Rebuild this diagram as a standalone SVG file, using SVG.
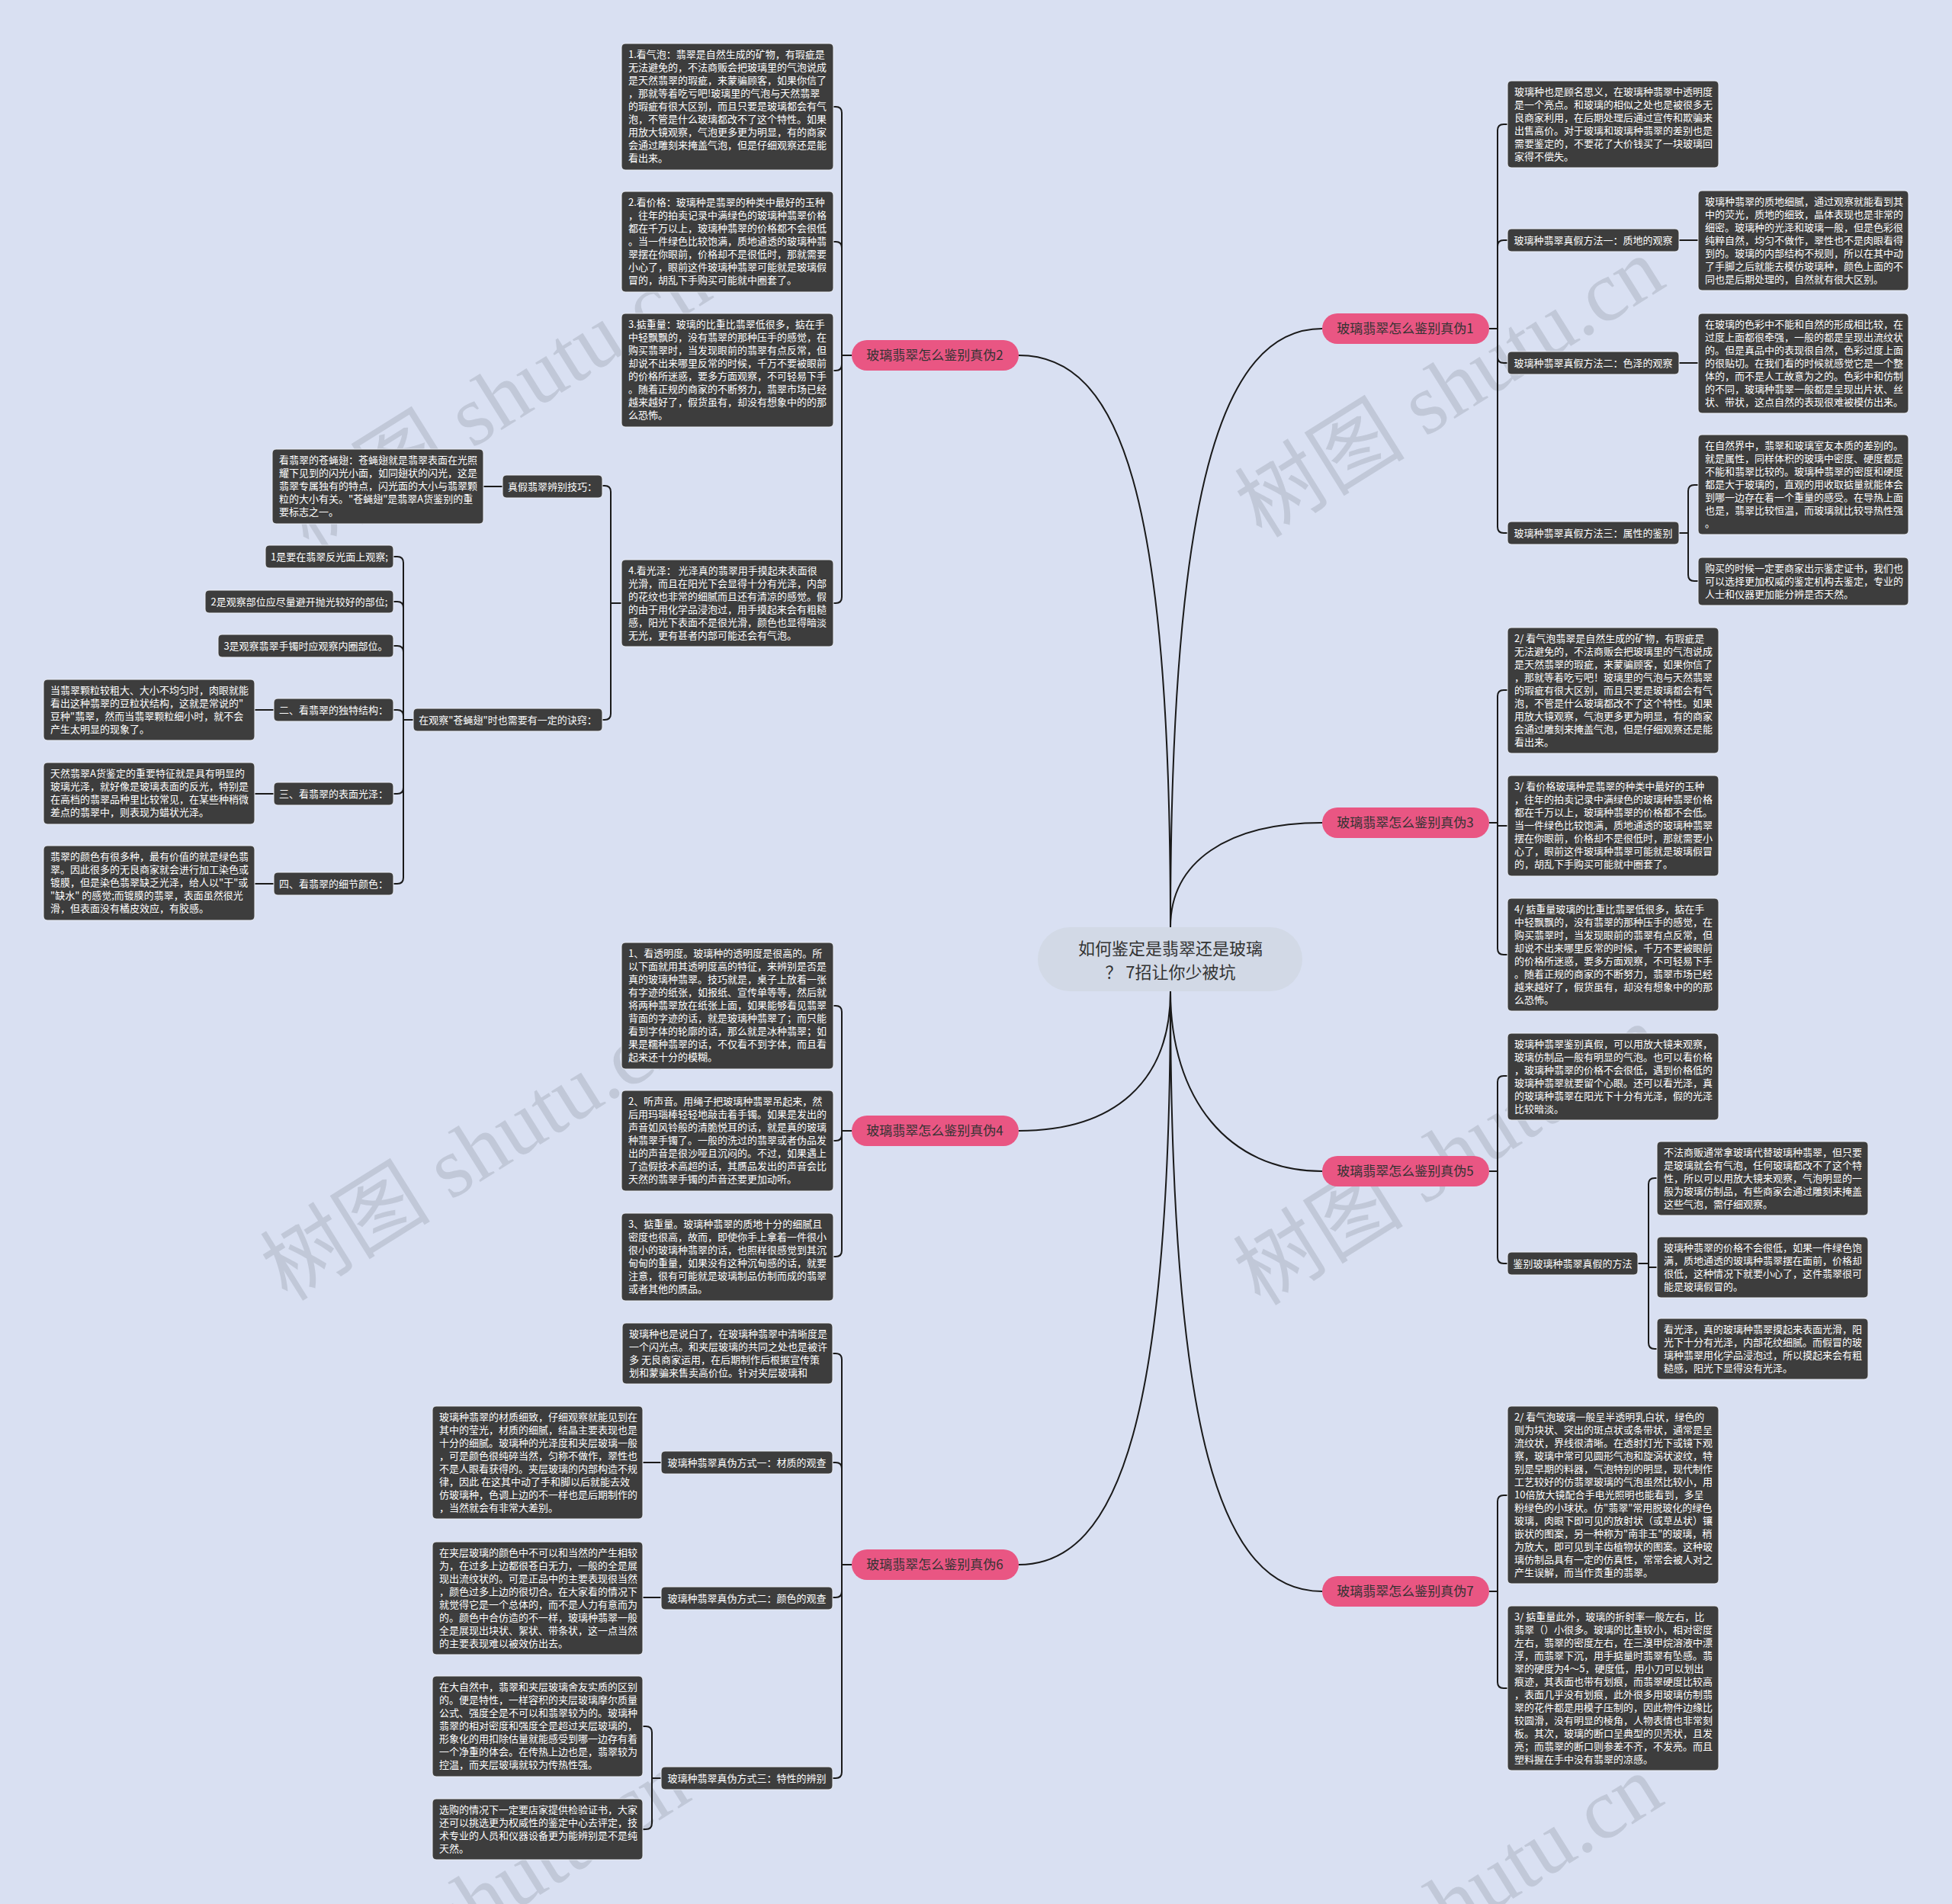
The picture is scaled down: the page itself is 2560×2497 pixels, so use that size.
<svg xmlns="http://www.w3.org/2000/svg" width="2560" height="2497" viewBox="0 0 2560 2497">
<style>
.bg{fill:#d9e0f2}
.bx{fill:#3d3d3d;stroke:#eef1f8;stroke-width:1}
.t{font-family:"Noto Sans CJK SC","Microsoft YaHei",sans-serif;font-size:13px;fill:#ffffff}
.tm{text-anchor:middle}
.pk{fill:#e95683}
.pt{font-family:"Noto Sans CJK SC","Microsoft YaHei",sans-serif;font-size:17px;fill:#333333;text-anchor:middle}
.ct{font-family:"Noto Sans CJK SC","Microsoft YaHei",sans-serif;font-size:22px;fill:#333333;text-anchor:middle}
.c{fill:none;stroke:#1a1a1a;stroke-width:2}
.wm{font-family:"Liberation Serif","Noto Sans CJK SC",serif;font-size:112px;fill:#b9c0d0;opacity:0.75}
</style>
<rect class="bg" x="0" y="0" width="2560" height="2497"/>
<g id="watermarks">
<text class="wm" transform="translate(405,722) rotate(-32)">树图 shutu.cn</text>
<text class="wm" transform="translate(1655,707) rotate(-32)">树图 shutu.cn</text>
<text class="wm" transform="translate(377,1708) rotate(-32)">树图 shutu.cn</text>
<text class="wm" transform="translate(1653,1714) rotate(-32)">树图 shutu.cn</text>
<text class="wm" transform="translate(377,2692) rotate(-32)">树图 shutu.cn</text>
<text class="wm" transform="translate(1653,2697) rotate(-32)">树图 shutu.cn</text>
</g>
<g id="connectors">
<path class="c" d="M1535,1216 C1535,650 1600,431 1734,431"/>
<path class="c" d="M1535,1216 C1535,650 1470,466 1336,466"/>
<path class="c" d="M1535,1216 C1535,1130 1610,1079 1734,1079"/>
<path class="c" d="M1535,1300 C1535,1420 1460,1483 1336,1483"/>
<path class="c" d="M1535,1300 C1535,1440 1610,1536 1734,1536"/>
<path class="c" d="M1535,1300 C1535,1850 1470,2052 1336,2052"/>
<path class="c" d="M1535,1300 C1535,1880 1600,2087 1734,2087"/>
<path class="c" d="M1953,431 H1964 V171 Q1964,163 1972,163 H1977"/>
<path class="c" d="M1953,431 H1964 V323 Q1964,315 1972,315 H1977"/>
<path class="c" d="M1953,431 H1964 V468 Q1964,476 1972,476 H1977"/>
<path class="c" d="M1953,431 H1964 V691 Q1964,699 1972,699 H1977"/>
<path class="c" d="M2202,315 H2227"/>
<path class="c" d="M2202,476 H2227"/>
<path class="c" d="M2202,699 H2214 V644 Q2214,636 2222,636 H2227"/>
<path class="c" d="M2202,699 H2214 V754 Q2214,762 2222,762 H2227"/>
<path class="c" d="M1953,1079 H1964 V913 Q1964,905 1972,905 H1977"/>
<path class="c" d="M1953,1079 H1964 V1083 H1977"/>
<path class="c" d="M1953,1079 H1964 V1244 Q1964,1252 1972,1252 H1977"/>
<path class="c" d="M1953,1536 H1964 V1419 Q1964,1411 1972,1411 H1977"/>
<path class="c" d="M1953,1536 H1964 V1649 Q1964,1657 1972,1657 H1977"/>
<path class="c" d="M2148,1657 H2162 V1553 Q2162,1545 2170,1545 H2173"/>
<path class="c" d="M2148,1657 H2162 V1662 H2173"/>
<path class="c" d="M2148,1657 H2162 V1761 Q2162,1769 2170,1769 H2173"/>
<path class="c" d="M1953,2087 H1964 V1969 Q1964,1961 1972,1961 H1977"/>
<path class="c" d="M1953,2087 H1964 V2206 Q1964,2214 1972,2214 H1977"/>
<path class="c" d="M1117,466 H1104 V148 Q1104,140 1096,140 H1093"/>
<path class="c" d="M1117,466 H1104 V325 Q1104,317 1096,317 H1093"/>
<path class="c" d="M1117,466 H1104 V478 Q1104,486 1096,486 H1093"/>
<path class="c" d="M1117,466 H1104 V783 Q1104,791 1096,791 H1093"/>
<path class="c" d="M815,791 H801 V645 Q801,637 793,637 H790"/>
<path class="c" d="M815,791 H801 V936 Q801,944 793,944 H790"/>
<path class="c" d="M659,638 H634"/>
<path class="c" d="M542,944 H529 V738 Q529,730 521,730 H516"/>
<path class="c" d="M542,944 H529 V797 Q529,789 521,789 H516"/>
<path class="c" d="M542,944 H529 V855 Q529,847 521,847 H516"/>
<path class="c" d="M542,944 H529 V939 Q529,931 521,931 H516"/>
<path class="c" d="M542,944 H529 V1033 Q529,1041 521,1041 H516"/>
<path class="c" d="M542,944 H529 V1151 Q529,1159 521,1159 H516"/>
<path class="c" d="M359,931 H334"/>
<path class="c" d="M359,1041 H334"/>
<path class="c" d="M359,1159 H334"/>
<path class="c" d="M1117,1483 H1104 V1327 Q1104,1319 1096,1319 H1093"/>
<path class="c" d="M1117,1483 H1104 V1488 Q1104,1496 1096,1496 H1093"/>
<path class="c" d="M1117,1483 H1104 V1640 Q1104,1648 1096,1648 H1093"/>
<path class="c" d="M1117,2052 H1104 V1783 Q1104,1775 1096,1775 H1092"/>
<path class="c" d="M1117,2052 H1104 V1926 Q1104,1918 1096,1918 H1092"/>
<path class="c" d="M1117,2052 H1104 V2087 Q1104,2095 1096,2095 H1092"/>
<path class="c" d="M1117,2052 H1104 V2324 Q1104,2332 1096,2332 H1092"/>
<path class="c" d="M867,1918 H843"/>
<path class="c" d="M867,2095 H843"/>
<path class="c" d="M867,2332 H855 V2272 Q855,2264 847,2264 H843"/>
<path class="c" d="M867,2332 H855 V2391 Q855,2399 847,2399 H843"/>
</g>
<g id="center">
<rect x="1361" y="1216" width="347" height="84" rx="42" fill="#d2d9e6"/>
<text class="ct" x="1535" y="1252">如何鉴定是翡翠还是玻璃</text>
<text class="ct" x="1535" y="1283">？ 7招让你少被坑</text>
</g>
<g id="b1"><rect class="pk" x="1734" y="411" width="219" height="40" rx="20"/><text class="pt" x="1843" y="437">玻璃翡翠怎么鉴别真伪1</text></g>
<g id="b2"><rect class="pk" x="1117" y="446" width="219" height="40" rx="20"/><text class="pt" x="1226" y="472">玻璃翡翠怎么鉴别真伪2</text></g>
<g id="b3"><rect class="pk" x="1734" y="1059" width="219" height="40" rx="20"/><text class="pt" x="1843" y="1085">玻璃翡翠怎么鉴别真伪3</text></g>
<g id="b4"><rect class="pk" x="1117" y="1463" width="219" height="40" rx="20"/><text class="pt" x="1226" y="1489">玻璃翡翠怎么鉴别真伪4</text></g>
<g id="b5"><rect class="pk" x="1734" y="1516" width="219" height="40" rx="20"/><text class="pt" x="1843" y="1542">玻璃翡翠怎么鉴别真伪5</text></g>
<g id="b6"><rect class="pk" x="1117" y="2032" width="219" height="40" rx="20"/><text class="pt" x="1226" y="2058">玻璃翡翠怎么鉴别真伪6</text></g>
<g id="b7"><rect class="pk" x="1734" y="2067" width="219" height="40" rx="20"/><text class="pt" x="1843" y="2093">玻璃翡翠怎么鉴别真伪7</text></g>

<g id="l2-1"><rect class="bx" x="815" y="57" width="278" height="166" rx="5"/><text class="t" x="824" y="76"><tspan x="824" dy="0">1.看气泡：翡翠是自然生成的矿物，有瑕疵是</tspan><tspan x="824" dy="17">无法避免的，不法商贩会把玻璃里的气泡说成</tspan><tspan x="824" dy="17">是天然翡翠的瑕疵，来蒙骗顾客，如果你信了</tspan><tspan x="824" dy="17">，那就等着吃亏吧!玻璃里的气泡与天然翡翠</tspan><tspan x="824" dy="17">的瑕疵有很大区别，而且只要是玻璃都会有气</tspan><tspan x="824" dy="17">泡，不管是什么玻璃都改不了这个特性。如果</tspan><tspan x="824" dy="17">用放大镜观察，气泡更多更为明显，有的商家</tspan><tspan x="824" dy="17">会通过雕刻来掩盖气泡，但是仔细观察还是能</tspan><tspan x="824" dy="17">看出来。</tspan></text></g>
<g id="l2-2"><rect class="bx" x="815" y="251" width="278" height="132" rx="5"/><text class="t" x="824" y="270"><tspan x="824" dy="0">2.看价格：玻璃种是翡翠的种类中最好的玉种</tspan><tspan x="824" dy="17">，往年的拍卖记录中满绿色的玻璃种翡翠价格</tspan><tspan x="824" dy="17">都在千万以上，玻璃种翡翠的价格都不会很低</tspan><tspan x="824" dy="17">。当一件绿色比较饱满，质地通透的玻璃种翡</tspan><tspan x="824" dy="17">翠摆在你眼前，价格却不是很低时，那就需要</tspan><tspan x="824" dy="17">小心了，眼前这件玻璃种翡翠可能就是玻璃假</tspan><tspan x="824" dy="17">冒的，胡乱下手购买可能就中圈套了。</tspan></text></g>
<g id="l2-3"><rect class="bx" x="815" y="411" width="278" height="149" rx="5"/><text class="t" x="824" y="430"><tspan x="824" dy="0">3.掂重量：玻璃的比重比翡翠低很多，掂在手</tspan><tspan x="824" dy="17">中轻飘飘的，没有翡翠的那种压手的感觉，在</tspan><tspan x="824" dy="17">购买翡翠时，当发现眼前的翡翠有点反常，但</tspan><tspan x="824" dy="17">却说不出来哪里反常的时候，千万不要被眼前</tspan><tspan x="824" dy="17">的价格所迷惑，要多方面观察，不可轻易下手</tspan><tspan x="824" dy="17">。随着正规的商家的不断努力，翡翠市场已经</tspan><tspan x="824" dy="17">越来越好了，假货虽有，却没有想象中的的那</tspan><tspan x="824" dy="17">么恐怖。</tspan></text></g>
<g id="l2-4"><rect class="bx" x="815" y="734" width="278" height="114" rx="5"/><text class="t" x="824" y="753"><tspan x="824" dy="0">4.看光泽： 光泽真的翡翠用手摸起来表面很</tspan><tspan x="824" dy="17">光滑，而且在阳光下会显得十分有光泽，内部</tspan><tspan x="824" dy="17">的花纹也非常的细腻而且还有清凉的感觉。假</tspan><tspan x="824" dy="17">的由于用化学品浸泡过，用手摸起来会有粗糙</tspan><tspan x="824" dy="17">感，阳光下表面不是很光滑，颜色也显得暗淡</tspan><tspan x="824" dy="17">无光，更有甚者内部可能还会有气泡。</tspan></text></g>
<g id="l2-4a"><rect class="bx" x="659" y="623" width="131" height="30" rx="5"/><text class="t tm" x="724.5" y="643">真假翡翠辨别技巧：</text></g>
<g id="l2-4a1"><rect class="bx" x="357" y="589" width="277" height="98" rx="5"/><text class="t" x="366" y="608"><tspan x="366" dy="0">看翡翠的苍蝇翅：苍蝇翅就是翡翠表面在光照</tspan><tspan x="366" dy="17">耀下见到的闪光小面，如同翅状的闪光，这是</tspan><tspan x="366" dy="17">翡翠专属独有的特点，闪光面的大小与翡翠颗</tspan><tspan x="366" dy="17">粒的大小有关。"苍蝇翅"是翡翠A货鉴别的重</tspan><tspan x="366" dy="17">要标志之一。</tspan></text></g>
<g id="l2-4b"><rect class="bx" x="542" y="929" width="248" height="30" rx="5"/><text class="t tm" x="666" y="949">在观察"苍蝇翅"时也需要有一定的诀窍：</text></g>
<g id="l2-4b1"><rect class="bx" x="348" y="715" width="168" height="30" rx="5"/><text class="t tm" x="432" y="735">1是要在翡翠反光面上观察;</text></g>
<g id="l2-4b2"><rect class="bx" x="269" y="774" width="247" height="30" rx="5"/><text class="t tm" x="392.5" y="794">2是观察部位应尽量避开抛光较好的部位;</text></g>
<g id="l2-4b3"><rect class="bx" x="286" y="832" width="230" height="30" rx="5"/><text class="t tm" x="401" y="852">3是观察翡翠手镯时应观察内圈部位。</text></g>
<g id="l2-4b4"><rect class="bx" x="359" y="916" width="157" height="30" rx="5"/><text class="t tm" x="437.5" y="936">二、看翡翠的独特结构：</text></g>
<g id="l2-4b4a"><rect class="bx" x="57" y="891" width="277" height="80" rx="5"/><text class="t" x="66" y="910"><tspan x="66" dy="0">当翡翠颗粒较粗大、大小不均匀时，肉眼就能</tspan><tspan x="66" dy="17">看出这种翡翠的豆粒状结构，这就是常说的"</tspan><tspan x="66" dy="17">豆种"翡翠，然而当翡翠颗粒细小时，就不会</tspan><tspan x="66" dy="17">产生太明显的现象了。</tspan></text></g>
<g id="l2-4b5"><rect class="bx" x="359" y="1026" width="157" height="30" rx="5"/><text class="t tm" x="437.5" y="1046">三、看翡翠的表面光泽：</text></g>
<g id="l2-4b5a"><rect class="bx" x="57" y="1000" width="277" height="81" rx="5"/><text class="t" x="66" y="1019"><tspan x="66" dy="0">天然翡翠A货鉴定的重要特征就是具有明显的</tspan><tspan x="66" dy="17">玻璃光泽，就好像是玻璃表面的反光，特别是</tspan><tspan x="66" dy="17">在高档的翡翠品种里比较常见，在某些种稍微</tspan><tspan x="66" dy="17">差点的翡翠中，则表现为蜡状光泽。</tspan></text></g>
<g id="l2-4b6"><rect class="bx" x="359" y="1144" width="157" height="30" rx="5"/><text class="t tm" x="437.5" y="1164">四、看翡翠的细节颜色：</text></g>
<g id="l2-4b6a"><rect class="bx" x="57" y="1109" width="277" height="98" rx="5"/><text class="t" x="66" y="1128"><tspan x="66" dy="0">翡翠的颜色有很多种，最有价值的就是绿色翡</tspan><tspan x="66" dy="17">翠。因此很多的无良商家就会进行加工染色或</tspan><tspan x="66" dy="17">镀膜，但是染色翡翠缺乏光泽，给人以"干"或</tspan><tspan x="66" dy="17">"缺水" 的感觉;而镀膜的翡翠，表面虽然很光</tspan><tspan x="66" dy="17">滑，但表面没有橘皮效应，有胶感。</tspan></text></g>

<g id="l4-1"><rect class="bx" x="815" y="1236" width="278" height="166" rx="5"/><text class="t" x="824" y="1255"><tspan x="824" dy="0">1、看透明度。玻璃种的透明度是很高的。所</tspan><tspan x="824" dy="17">以下面就用其透明度高的特征，来辨别是否是</tspan><tspan x="824" dy="17">真的玻璃种翡翠。技巧就是，桌子上放着一张</tspan><tspan x="824" dy="17">有字迹的纸张，如报纸、宣传单等等，然后就</tspan><tspan x="824" dy="17">将两种翡翠放在纸张上面，如果能够看见翡翠</tspan><tspan x="824" dy="17">背面的字迹的话，就是玻璃种翡翠了；而只能</tspan><tspan x="824" dy="17">看到字体的轮廓的话，那么就是冰种翡翠；如</tspan><tspan x="824" dy="17">果是糯种翡翠的话，不仅看不到字体，而且看</tspan><tspan x="824" dy="17">起来还十分的模糊。</tspan></text></g>
<g id="l4-2"><rect class="bx" x="815" y="1430" width="278" height="132" rx="5"/><text class="t" x="824" y="1449"><tspan x="824" dy="0">2、听声音。用绳子把玻璃种翡翠吊起来，然</tspan><tspan x="824" dy="17">后用玛瑙棒轻轻地敲击着手镯。如果是发出的</tspan><tspan x="824" dy="17">声音如风铃般的清脆悦耳的话，就是真的玻璃</tspan><tspan x="824" dy="17">种翡翠手镯了。一般的洗过的翡翠或者伪品发</tspan><tspan x="824" dy="17">出的声音是很沙哑且沉闷的。不过，如果遇上</tspan><tspan x="824" dy="17">了造假技术高超的话，其赝品发出的声音会比</tspan><tspan x="824" dy="17">天然的翡翠手镯的声音还要更加动听。</tspan></text></g>
<g id="l4-3"><rect class="bx" x="815" y="1591" width="278" height="115" rx="5"/><text class="t" x="824" y="1610"><tspan x="824" dy="0">3、掂重量。玻璃种翡翠的质地十分的细腻且</tspan><tspan x="824" dy="17">密度也很高，故而，即使你手上拿着一件很小</tspan><tspan x="824" dy="17">很小的玻璃种翡翠的话，也照样很感觉到其沉</tspan><tspan x="824" dy="17">甸甸的重量，如果没有这种沉甸感的话，就要</tspan><tspan x="824" dy="17">注意，很有可能就是玻璃制品仿制而成的翡翠</tspan><tspan x="824" dy="17">或者其他的赝品。</tspan></text></g>

<g id="l6-1"><rect class="bx" x="816" y="1735" width="276" height="80" rx="5"/><text class="t" x="825" y="1754"><tspan x="825" dy="0">玻璃种也是说白了，在玻璃种翡翠中清晰度是</tspan><tspan x="825" dy="17">一个闪光点。和夹层玻璃的共同之处也是被许</tspan><tspan x="825" dy="17">多 无良商家运用，在后期制作后根据宣传策</tspan><tspan x="825" dy="17">划和蒙骗来售卖高价位。针对夹层玻璃和</tspan></text></g>
<g id="l6-2"><rect class="bx" x="867" y="1903" width="225" height="30" rx="5"/><text class="t tm" x="979.5" y="1923">玻璃种翡翠真伪方式一：材质的观查</text></g>
<g id="l6-2a"><rect class="bx" x="567" y="1844" width="276" height="148" rx="5"/><text class="t" x="576" y="1863"><tspan x="576" dy="0">玻璃种翡翠的材质细致，仔细观察就能见到在</tspan><tspan x="576" dy="17">其中的莹光，材质的细腻，结晶主要表现也是</tspan><tspan x="576" dy="17">十分的细腻。玻璃种的光泽度和夹层玻璃一般</tspan><tspan x="576" dy="17">，可是颜色很纯碎当然，匀称不做作，翠性也</tspan><tspan x="576" dy="17">不是人眼看获得的。夹层玻璃的内部构造不规</tspan><tspan x="576" dy="17">律，因此 在这其中动了手和脚以后就能去效</tspan><tspan x="576" dy="17">仿玻璃种，色调上边的不一样也是后期制作的</tspan><tspan x="576" dy="17">，当然就会有非常大差别。</tspan></text></g>
<g id="l6-3"><rect class="bx" x="867" y="2081" width="225" height="30" rx="5"/><text class="t tm" x="979.5" y="2101">玻璃种翡翠真伪方式二：颜色的观查</text></g>
<g id="l6-3a"><rect class="bx" x="567" y="2022" width="276" height="148" rx="5"/><text class="t" x="576" y="2041"><tspan x="576" dy="0">在夹层玻璃的颜色中不可以和当然的产生相较</tspan><tspan x="576" dy="17">为，在过多上边都很苍白无力，一般的全是展</tspan><tspan x="576" dy="17">现出流纹状的。可是正品中的主要表现很当然</tspan><tspan x="576" dy="17">，颜色过多上边的很切合。在大家看的情况下</tspan><tspan x="576" dy="17">就觉得它是一个总体的，而不是人力有意而为</tspan><tspan x="576" dy="17">的。颜色中合仿造的不一样，玻璃种翡翠一般</tspan><tspan x="576" dy="17">全是展现出块状、絮状、带条状，这一点当然</tspan><tspan x="576" dy="17">的主要表现难以被效仿出去。</tspan></text></g>
<g id="l6-4"><rect class="bx" x="867" y="2317" width="225" height="30" rx="5"/><text class="t tm" x="979.5" y="2337">玻璃种翡翠真伪方式三：特性的辨别</text></g>
<g id="l6-4a"><rect class="bx" x="567" y="2198" width="276" height="132" rx="5"/><text class="t" x="576" y="2217"><tspan x="576" dy="0">在大自然中，翡翠和夹层玻璃舍友实质的区别</tspan><tspan x="576" dy="17">的。便是特性，一样容积的夹层玻璃摩尔质量</tspan><tspan x="576" dy="17">公式、强度全是不可以和翡翠较为的。玻璃种</tspan><tspan x="576" dy="17">翡翠的相对密度和强度全是超过夹层玻璃的，</tspan><tspan x="576" dy="17">形象化的用扣除估量就能感受到哪一边存有着</tspan><tspan x="576" dy="17">一个净重的体会。在传热上边也是，翡翠较为</tspan><tspan x="576" dy="17">控温，而夹层玻璃就较为传热性强。</tspan></text></g>
<g id="l6-4b"><rect class="bx" x="567" y="2359" width="276" height="80" rx="5"/><text class="t" x="576" y="2378"><tspan x="576" dy="0">选购的情况下一定要店家提供检验证书，大家</tspan><tspan x="576" dy="17">还可以挑选更为权威性的鉴定中心去评定，技</tspan><tspan x="576" dy="17">术专业的人员和仪器设备更为能辨别是不是纯</tspan><tspan x="576" dy="17">天然。</tspan></text></g>

<g id="r1-1"><rect class="bx" x="1977" y="106" width="277" height="114" rx="5"/><text class="t" x="1986" y="125"><tspan x="1986" dy="0">玻璃种也是顾名思义，在玻璃种翡翠中透明度</tspan><tspan x="1986" dy="17">是一个亮点。和玻璃的相似之处也是被很多无</tspan><tspan x="1986" dy="17">良商家利用，在后期处理后通过宣传和欺骗来</tspan><tspan x="1986" dy="17">出售高价。对于玻璃和玻璃种翡翠的差别也是</tspan><tspan x="1986" dy="17">需要鉴定的，不要花了大价钱买了一块玻璃回</tspan><tspan x="1986" dy="17">家得不偿失。</tspan></text></g>
<g id="r1-2"><rect class="bx" x="1977" y="300" width="225" height="30" rx="5"/><text class="t tm" x="2089.5" y="320">玻璃种翡翠真假方法一：质地的观察</text></g>
<g id="r1-2a"><rect class="bx" x="2227" y="250" width="276" height="131" rx="5"/><text class="t" x="2236" y="269"><tspan x="2236" dy="0">玻璃种翡翠的质地细腻，通过观察就能看到其</tspan><tspan x="2236" dy="17">中的荧光，质地的细致，晶体表现也是非常的</tspan><tspan x="2236" dy="17">细密。玻璃种的光泽和玻璃一般，但是色彩很</tspan><tspan x="2236" dy="17">纯粹自然，均匀不做作，翠性也不是肉眼看得</tspan><tspan x="2236" dy="17">到的。玻璃的内部结构不规则，所以在其中动</tspan><tspan x="2236" dy="17">了手脚之后就能去模仿玻璃种，颜色上面的不</tspan><tspan x="2236" dy="17">同也是后期处理的，自然就有很大区别。</tspan></text></g>
<g id="r1-3"><rect class="bx" x="1977" y="461" width="225" height="30" rx="5"/><text class="t tm" x="2089.5" y="481">玻璃种翡翠真假方法二：色泽的观察</text></g>
<g id="r1-3a"><rect class="bx" x="2227" y="411" width="276" height="131" rx="5"/><text class="t" x="2236" y="430"><tspan x="2236" dy="0">在玻璃的色彩中不能和自然的形成相比较，在</tspan><tspan x="2236" dy="17">过度上面都很牵强，一般的都是呈现出流纹状</tspan><tspan x="2236" dy="17">的。但是真品中的表现很自然，色彩过度上面</tspan><tspan x="2236" dy="17">的很贴切。在我们看的时候就感觉它是一个整</tspan><tspan x="2236" dy="17">体的，而不是人工故意为之的。色彩中和仿制</tspan><tspan x="2236" dy="17">的不同，玻璃种翡翠一般都是呈现出片状、丝</tspan><tspan x="2236" dy="17">状、带状，这点自然的表现很难被模仿出来。</tspan></text></g>
<g id="r1-4"><rect class="bx" x="1977" y="684" width="225" height="30" rx="5"/><text class="t tm" x="2089.5" y="704">玻璃种翡翠真假方法三：属性的鉴别</text></g>
<g id="r1-4a"><rect class="bx" x="2227" y="570" width="276" height="131" rx="5"/><text class="t" x="2236" y="589"><tspan x="2236" dy="0">在自然界中，翡翠和玻璃室友本质的差别的。</tspan><tspan x="2236" dy="17">就是属性，同样体积的玻璃中密度、硬度都是</tspan><tspan x="2236" dy="17">不能和翡翠比较的。玻璃种翡翠的密度和硬度</tspan><tspan x="2236" dy="17">都是大于玻璃的，直观的用收取掂量就能体会</tspan><tspan x="2236" dy="17">到哪一边存在着一个重量的感受。在导热上面</tspan><tspan x="2236" dy="17">也是，翡翠比较恒温，而玻璃就比较导热性强</tspan><tspan x="2236" dy="17">。</tspan></text></g>
<g id="r1-4b"><rect class="bx" x="2227" y="731" width="276" height="63" rx="5"/><text class="t" x="2236" y="750"><tspan x="2236" dy="0">购买的时候一定要商家出示鉴定证书，我们也</tspan><tspan x="2236" dy="17">可以选择更加权威的鉴定机构去鉴定，专业的</tspan><tspan x="2236" dy="17">人士和仪器更加能分辨是否天然。</tspan></text></g>

<g id="r3-1"><rect class="bx" x="1977" y="823" width="277" height="165" rx="5"/><text class="t" x="1986" y="842"><tspan x="1986" dy="0">2/ 看气泡翡翠是自然生成的矿物，有瑕疵是</tspan><tspan x="1986" dy="17">无法避免的，不法商贩会把玻璃里的气泡说成</tspan><tspan x="1986" dy="17">是天然翡翠的瑕疵，来蒙骗顾客，如果你信了</tspan><tspan x="1986" dy="17">，那就等着吃亏吧！玻璃里的气泡与天然翡翠</tspan><tspan x="1986" dy="17">的瑕疵有很大区别，而且只要是玻璃都会有气</tspan><tspan x="1986" dy="17">泡，不管是什么玻璃都改不了这个特性。如果</tspan><tspan x="1986" dy="17">用放大镜观察，气泡更多更为明显，有的商家</tspan><tspan x="1986" dy="17">会通过雕刻来掩盖气泡，但是仔细观察还是能</tspan><tspan x="1986" dy="17">看出来。</tspan></text></g>
<g id="r3-2"><rect class="bx" x="1977" y="1017" width="277" height="132" rx="5"/><text class="t" x="1986" y="1036"><tspan x="1986" dy="0">3/ 看价格玻璃种是翡翠的种类中最好的玉种</tspan><tspan x="1986" dy="17">，往年的拍卖记录中满绿色的玻璃种翡翠价格</tspan><tspan x="1986" dy="17">都在千万以上，玻璃种翡翠的价格都不会低。</tspan><tspan x="1986" dy="17">当一件绿色比较饱满，质地通透的玻璃种翡翠</tspan><tspan x="1986" dy="17">摆在你眼前，价格却不是很低时，那就需要小</tspan><tspan x="1986" dy="17">心了，眼前这件玻璃种翡翠可能就是玻璃假冒</tspan><tspan x="1986" dy="17">的，胡乱下手购买可能就中圈套了。</tspan></text></g>
<g id="r3-3"><rect class="bx" x="1977" y="1178" width="277" height="148" rx="5"/><text class="t" x="1986" y="1197"><tspan x="1986" dy="0">4/ 掂重量玻璃的比重比翡翠低很多，掂在手</tspan><tspan x="1986" dy="17">中轻飘飘的，没有翡翠的那种压手的感觉，在</tspan><tspan x="1986" dy="17">购买翡翠时，当发现眼前的翡翠有点反常，但</tspan><tspan x="1986" dy="17">却说不出来哪里反常的时候，千万不要被眼前</tspan><tspan x="1986" dy="17">的价格所迷惑，要多方面观察，不可轻易下手</tspan><tspan x="1986" dy="17">。随着正规的商家的不断努力，翡翠市场已经</tspan><tspan x="1986" dy="17">越来越好了，假货虽有，却没有想象中的的那</tspan><tspan x="1986" dy="17">么恐怖。</tspan></text></g>

<g id="r5-1"><rect class="bx" x="1977" y="1355" width="277" height="114" rx="5"/><text class="t" x="1986" y="1374"><tspan x="1986" dy="0">玻璃种翡翠鉴别真假，可以用放大镜来观察，</tspan><tspan x="1986" dy="17">玻璃仿制品一般有明显的气泡。也可以看价格</tspan><tspan x="1986" dy="17">，玻璃种翡翠的价格不会很低，遇到价格低的</tspan><tspan x="1986" dy="17">玻璃种翡翠就要留个心眼。还可以看光泽，真</tspan><tspan x="1986" dy="17">的玻璃种翡翠在阳光下十分有光泽，假的光泽</tspan><tspan x="1986" dy="17">比较暗淡。</tspan></text></g>
<g id="r5-2"><rect class="bx" x="1977" y="1642" width="171" height="30" rx="5"/><text class="t tm" x="2062.5" y="1662">鉴别玻璃种翡翠真假的方法</text></g>
<g id="r5-2a"><rect class="bx" x="2173" y="1497" width="277" height="97" rx="5"/><text class="t" x="2182" y="1516"><tspan x="2182" dy="0">不法商贩通常拿玻璃代替玻璃种翡翠，但只要</tspan><tspan x="2182" dy="17">是玻璃就会有气泡，任何玻璃都改不了这个特</tspan><tspan x="2182" dy="17">性，所以可以用放大镜来观察，气泡明显的一</tspan><tspan x="2182" dy="17">般为玻璃仿制品，有些商家会通过雕刻来掩盖</tspan><tspan x="2182" dy="17">这些气泡，需仔细观察。</tspan></text></g>
<g id="r5-2b"><rect class="bx" x="2173" y="1622" width="277" height="80" rx="5"/><text class="t" x="2182" y="1641"><tspan x="2182" dy="0">玻璃种翡翠的价格不会很低，如果一件绿色饱</tspan><tspan x="2182" dy="17">满，质地通透的玻璃种翡翠摆在面前，价格却</tspan><tspan x="2182" dy="17">很低，这种情况下就要小心了，这件翡翠很可</tspan><tspan x="2182" dy="17">能是玻璃假冒的。</tspan></text></g>
<g id="r5-2c"><rect class="bx" x="2173" y="1729" width="277" height="80" rx="5"/><text class="t" x="2182" y="1748"><tspan x="2182" dy="0">看光泽，真的玻璃种翡翠摸起来表面光滑，阳</tspan><tspan x="2182" dy="17">光下十分有光泽，内部花纹细腻。而假冒的玻</tspan><tspan x="2182" dy="17">璃种翡翠用化学品浸泡过，所以摸起来会有粗</tspan><tspan x="2182" dy="17">糙感，阳光下显得没有光泽。</tspan></text></g>

<g id="r7-1"><rect class="bx" x="1977" y="1844" width="277" height="233" rx="5"/><text class="t" x="1986" y="1863"><tspan x="1986" dy="0">2/ 看气泡玻璃一般呈半透明乳白状，绿色的</tspan><tspan x="1986" dy="17">则为块状、突出的斑点状或条带状，通常是呈</tspan><tspan x="1986" dy="17">流纹状，界线很清晰。在透射灯光下或镜下观</tspan><tspan x="1986" dy="17">察，玻璃中常可见圆形气泡和旋涡状波纹，特</tspan><tspan x="1986" dy="17">别是早期的料器，气泡特别的明显，现代制作</tspan><tspan x="1986" dy="17">工艺较好的仿翡翠玻璃的气泡虽然比较小，用</tspan><tspan x="1986" dy="17">10倍放大镜配合手电光照明也能看到，多呈</tspan><tspan x="1986" dy="17">粉绿色的小球状。仿"翡翠"常用脱玻化的绿色</tspan><tspan x="1986" dy="17">玻璃，肉眼下即可见的放射状（或草丛状）镶</tspan><tspan x="1986" dy="17">嵌状的图案，另一种称为"南非玉"的玻璃，稍</tspan><tspan x="1986" dy="17">为放大，即可见到羊齿植物状的图案。这种玻</tspan><tspan x="1986" dy="17">璃仿制品具有一定的仿真性，常常会被人对之</tspan><tspan x="1986" dy="17">产生误解，而当作贵重的翡翠。</tspan></text></g>
<g id="r7-2"><rect class="bx" x="1977" y="2106" width="277" height="216" rx="5"/><text class="t" x="1986" y="2125"><tspan x="1986" dy="0">3/ 掂重量此外，玻璃的折射率一般左右，比</tspan><tspan x="1986" dy="17">翡翠（）小很多。玻璃的比重较小，相对密度</tspan><tspan x="1986" dy="17">左右，翡翠的密度左右，在三溴甲烷溶液中漂</tspan><tspan x="1986" dy="17">浮，而翡翠下沉，用手掂量时翡翠有坠感。翡</tspan><tspan x="1986" dy="17">翠的硬度为4～5，硬度低，用小刀可以划出</tspan><tspan x="1986" dy="17">痕迹，其表面也带有划痕，而翡翠硬度比较高</tspan><tspan x="1986" dy="17">，表面几乎没有划痕，此外很多用玻璃仿制翡</tspan><tspan x="1986" dy="17">翠的花件都是用模子压制的，因此物件边缘比</tspan><tspan x="1986" dy="17">较圆滑，没有明显的棱角，人物表情也非常刻</tspan><tspan x="1986" dy="17">板。其次，玻璃的断口呈典型的贝壳状，且发</tspan><tspan x="1986" dy="17">亮；而翡翠的断口则参差不齐，不发亮。而且</tspan><tspan x="1986" dy="17">塑料握在手中没有翡翠的凉感。</tspan></text></g>
</svg>
